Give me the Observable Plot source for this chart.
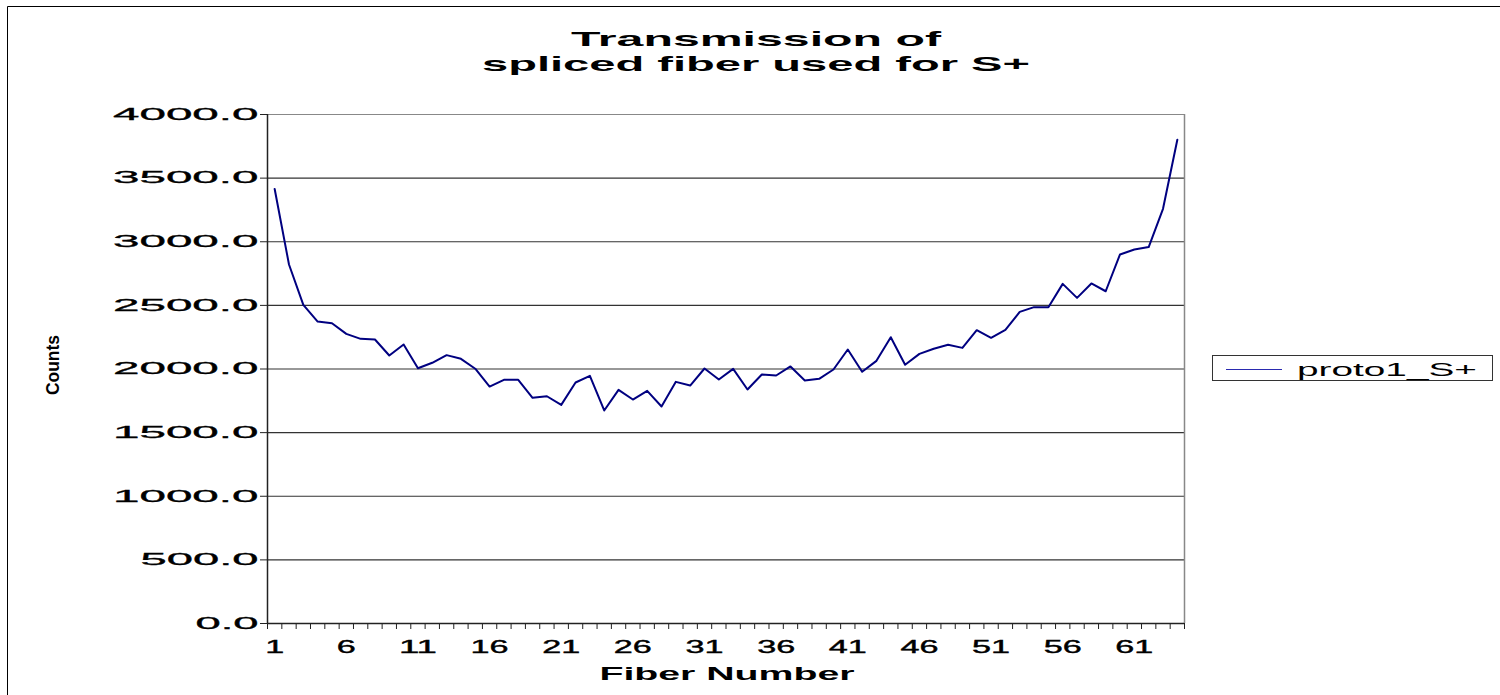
<!DOCTYPE html>
<html><head><meta charset="utf-8">
<script src="https://cdn.jsdelivr.net/npm/d3@7"></script>
<script src="https://cdn.jsdelivr.net/npm/@observablehq/plot@0.6"></script>
<style>
html,body{margin:0;padding:0;background:#fff;}
#chart{position:relative;width:1500px;height:695px;overflow:hidden;}
</style></head><body><div id="chart"></div>
<script>
const fiberNumbers = [1,2,3,4,5,6,7,8,9,10,11,12,13,14,15,16,17,18,19,20,21,22,23,24,25,26,27,28,29,30,31,32,33,34,35,36,37,38,39,40,41,42,43,44,45,46,47,48,49,50,51,52,53,54,55,56,57,58,59,60,61,62,63,64];
const counts = [3415,2821,2504,2373,2360,2276,2237,2232,2106,2193,
  2006,2049,2109,2080,2002,1862,1915,1915,1774,1786,
  1718,1894,1946,1674,1836,1760,1828,1705,1899,1870,
  2004,1917,2001,1839,1957,1949,2020,1910,1923,1996,
  2153,1978,2064,2250,2033,2119,2159,2190,2166,2305,
  2245,2308,2449,2486,2486,2669,2559,2672,2611,2900,
  2939,2958,3259,3801];
const xTickLabels = [1,6,11,16,21,26,31,36,41,46,51,56,61];
const yTicks = [0,500,1000,1500,2000,2500,3000,3500,4000];
const seriesName = "proto1_S+";
const titleLines = ["Transmission of", "spliced fiber used for S+"];
const xTitle = "Fiber Number";
const yTitle = "Counts";

const data = fiberNumbers.map((f, i) => ({fiber: f, count: counts[i]}));
const boundaries = fiberNumbers.map(f => f - 0.5).concat([fiberNumbers[fiberNumbers.length - 1] + 0.5]);
const xDomain = [boundaries[0], boundaries[boundaries.length - 1]];
const FONT = "'Liberation Sans', Arial, Helvetica, sans-serif";

const plot = Plot.plot({
  width: 1500, height: 695,
  marginLeft: 267, marginRight: 316, marginTop: 114, marginBottom: 72,
  style: {fontFamily: FONT, background: "transparent", color: "#000", overflow: "visible"},
  x: {domain: xDomain, axis: null},
  y: {domain: [0, 4000], axis: null},
  marks: [
    Plot.ruleY(yTicks.filter(d => d > 0 && d < 4000), {stroke: "#333", strokeWidth: 1.2}),
    Plot.ruleY([4000], {stroke: "#888", strokeWidth: 1.2}),
    Plot.ruleX([xDomain[1]], {stroke: "#888", strokeWidth: 1.5}),
    Plot.axisX({ticks: boundaries, tickFormat: () => "", tickSize: 6, stroke: "#222", label: null}),
    Plot.axisX({ticks: xTickLabels, tickSize: 0, tickPadding: 17, fontSize: 18, tickFormat: d => String(d), label: null}),
    Plot.axisY({ticks: yTicks, tickSize: 7, tickPadding: 2, fontSize: 16.5, stroke: "#222", tickFormat: d => d.toFixed(1), label: null}),
    Plot.ruleX([xDomain[0]], {stroke: "#222", strokeWidth: 1.5}),
    Plot.ruleY([0], {stroke: "#222", strokeWidth: 1.5}),
    Plot.lineY(data, {x: "fiber", y: "count", stroke: "#000080", strokeWidth: 2})
  ]
});
document.getElementById("chart").appendChild(plot);

const svg = d3.select(plot);
svg.selectAll('g[aria-label="y-axis tick label"] text').each(function() {
  const t = this.textContent;
  const digits = t.replace(/[^0-9]/g, "").length;
  this.setAttribute("textLength", digits * 27.5 + 8);
  this.setAttribute("lengthAdjust", "spacingAndGlyphs");
  this.setAttribute("stroke", "#000");
  this.setAttribute("stroke-width", "0.3");
});
svg.selectAll('g[aria-label="x-axis tick label"] text').each(function() {
  const t = this.textContent;
  if (!t) return;
  this.setAttribute("textLength", t.length * 19);
  this.setAttribute("lengthAdjust", "spacingAndGlyphs");
  this.setAttribute("stroke", "#000");
  this.setAttribute("stroke-width", "0.4");
});

// outer chart border
svg.append("path").attr("d", "M7.5,700 V6.5 H1505").attr("fill", "none").attr("stroke", "#000").attr("stroke-width", 1);

// title
const tl = [370, 548];
titleLines.forEach((line, i) => {
  svg.append("text").attr("x", 756).attr("y", 46 + i * 25)
    .attr("text-anchor", "middle").attr("font-family", FONT).attr("font-weight", "bold").attr("font-size", 21)
    .attr("textLength", tl[i]).attr("lengthAdjust", "spacingAndGlyphs").text(line);
});

// x title
svg.append("text").attr("x", 727).attr("y", 680)
  .attr("text-anchor", "middle").attr("font-family", FONT).attr("font-weight", "bold").attr("font-size", 19)
  .attr("textLength", 255).attr("lengthAdjust", "spacingAndGlyphs").text(xTitle);

// y title
svg.append("text").attr("transform", "translate(59,365) rotate(-90)")
  .attr("text-anchor", "middle").attr("font-family", FONT).attr("font-weight", "bold").attr("font-size", 18)
  .attr("textLength", 60).attr("lengthAdjust", "spacingAndGlyphs").text(yTitle);

// legend
const lg = svg.append("g");
lg.append("rect").attr("x", 1212.5).attr("y", 355.5).attr("width", 280).attr("height", 25)
  .attr("fill", "#fff").attr("stroke", "#333").attr("stroke-width", 1);
lg.append("line").attr("x1", 1226).attr("x2", 1282).attr("y1", 369.5).attr("y2", 369.5)
  .attr("stroke", "#2a2ab0").attr("stroke-width", 1.2);
lg.append("text").attr("x", 1297).attr("y", 376).attr("text-anchor", "start")
  .attr("font-family", FONT).attr("font-size", 18)
  .attr("textLength", 180).attr("lengthAdjust", "spacingAndGlyphs").text(seriesName);
</script>
</body></html>
